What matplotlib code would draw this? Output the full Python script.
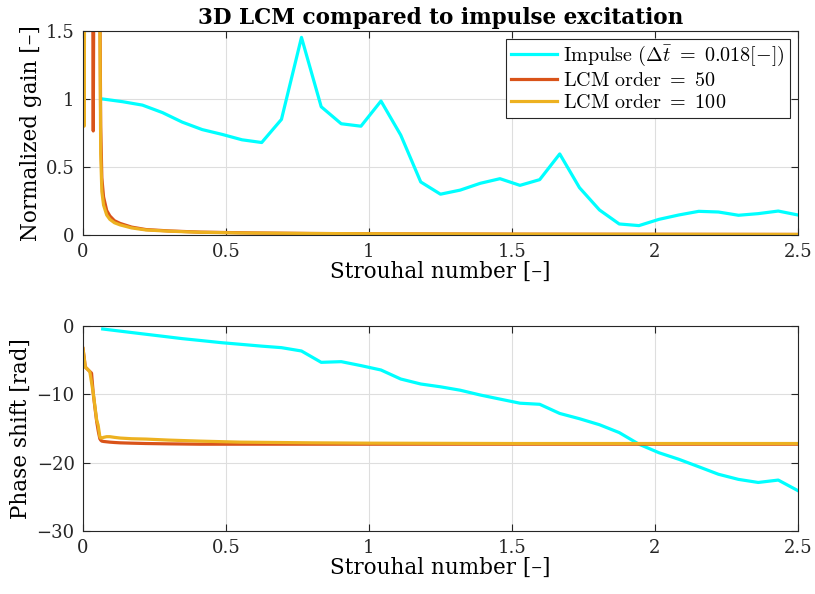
import matplotlib
matplotlib.use("Agg")
import matplotlib.pyplot as plt

# impulse response (Strouhal number, normalized gain, phase)
st_imp = [0.069, 0.139, 0.208, 0.278, 0.347, 0.417, 0.486, 0.556, 0.625, 0.694,
          0.764, 0.833, 0.903, 0.972, 1.042, 1.111, 1.181, 1.250, 1.319, 1.389,
          1.458, 1.528, 1.597, 1.667, 1.736, 1.806, 1.875, 1.944, 2.014, 2.083,
          2.153, 2.222, 2.292, 2.361, 2.431, 2.500]
gain_imp = [1.00, 0.98, 0.955, 0.90, 0.83, 0.775, 0.74, 0.70, 0.68, 0.85,
            1.453, 0.943, 0.818, 0.80, 0.985, 0.735, 0.39, 0.30, 0.33, 0.38,
            0.414, 0.365, 0.407, 0.596, 0.348, 0.184, 0.081, 0.069, 0.115, 0.147,
            0.174, 0.169, 0.145, 0.157, 0.176, 0.147]
phase_imp = [-0.44, -0.8, -1.15, -1.5, -1.85, -2.15, -2.45, -2.7, -2.95, -3.17,
             -3.66, -5.32, -5.22, -5.8, -6.44, -7.76, -8.49, -8.9, -9.4, -10.1,
             -10.7, -11.3, -11.46, -12.8, -13.57, -14.45, -15.6, -17.3, -18.55, -19.5,
             -20.6, -21.7, -22.45, -22.9, -22.55, -24.1]

# LCM order 50
st_lcm50 = [0, 0.004, 0.008, 0.02, 0.03, 0.036, 0.042, 0.048, 0.054, 0.059,
            0.062, 0.066, 0.072, 0.083, 0.094, 0.11, 0.13, 0.17, 0.22, 0.3,
            0.41, 0.6, 0.8, 1.0, 1.5, 2.0, 2.5]
gain_lcm50 = [3, 3, 3, 4, 4, 0.765, 4, 4, 4, 1.8,
              0.8, 0.42, 0.28, 0.18, 0.14, 0.105, 0.085, 0.058, 0.04, 0.03,
              0.021, 0.015, 0.011, 0.009, 0.006, 0.005, 0.004]
phase_lcm50 = [-3.3, -4.5, -6.0, -6.5, -6.9, -9.9, -12.0, -14.0, -15.5, -16.5,
               -16.7, -16.85, -16.9, -16.95, -17.0, -17.05, -17.1, -17.15, -17.2, -17.25,
               -17.3, -17.3, -17.3, -17.3, -17.3, -17.3, -17.3]

# LCM order 100
st_lcm100 = [0, 0.004, 0.008, 0.02, 0.024, 0.036, 0.048, 0.053, 0.059, 0.062,
             0.066, 0.072, 0.083, 0.094, 0.11, 0.13, 0.17, 0.22, 0.3, 0.41,
             0.55, 0.8, 1.0, 1.5, 2.0, 2.5]
gain_lcm100 = [3, 0.80, 3, 4, 4, 4, 4, 4, 1.6, 0.6,
               0.32, 0.22, 0.147, 0.115, 0.09, 0.074, 0.052, 0.037, 0.028, 0.02,
               0.015, 0.011, 0.009, 0.006, 0.005, 0.004]
phase_lcm100 = [-3.3, -4.6, -6.0, -6.5, -6.7, -9.85, -13.8, -14.5, -16.2, -16.4,
                -16.4, -16.3, -16.2, -16.2, -16.3, -16.4, -16.5, -16.55, -16.7, -16.85,
                -17.0, -17.1, -17.15, -17.2, -17.2, -17.2]

labels = [r"$\mathrm{Impulse}\ (\Delta\bar{t}\ =\ 0.018[-])$",
          r"$\mathrm{LCM\ order}\ =\ 50$",
          r"$\mathrm{LCM\ order}\ =\ 100$"]
colors = ["#00ffff", "#d95319", "#edb120"]

plt.rcParams["font.family"] = ["DejaVu Serif"]
plt.rcParams["mathtext.fontset"] = "cm"

fig = plt.figure(figsize=(8.15, 5.94), dpi=100)
ax1 = fig.add_axes([0.1018, 0.6044, 0.8773, 0.3434])
ax2 = fig.add_axes([0.1018, 0.1061, 0.8773, 0.3451])

ax1.plot(st_imp, gain_imp, color=colors[0], lw=2.3, label=labels[0])
ax1.plot(st_lcm50, gain_lcm50, color=colors[1], lw=2.3, label=labels[1])
ax1.plot(st_lcm100, gain_lcm100, color=colors[2], lw=2.3, label=labels[2])

ax2.plot(st_imp, phase_imp, color=colors[0], lw=2.3)
ax2.plot(st_lcm50, phase_lcm50, color=colors[1], lw=2.3)
ax2.plot(st_lcm100, phase_lcm100, color=colors[2], lw=2.3)

ax1.set_ylim(0, 1.5)
ax1.set_yticks([0, 0.5, 1, 1.5])
ax1.set_yticklabels(["0", "0.5", "1", "1.5"])
ax2.set_ylim(-30, 0)
ax2.set_yticks([-30, -20, -10, 0])

for ax in (ax1, ax2):
    ax.set_xlim(0, 2.5)
    ax.set_xticks([0, 0.5, 1, 1.5, 2, 2.5])
    ax.set_xticklabels(["0", "0.5", "1", "1.5", "2", "2.5"])
    ax.grid(True, color="#dedede", lw=0.8)
    ax.set_axisbelow(True)
    ax.tick_params(direction="in", top=True, right=True, length=5,
                   labelsize=13, colors="#262626", pad=6)
    for sp in ax.spines.values():
        sp.set_color("#262626")
        sp.set_linewidth(0.8)
    ax.set_xlabel("Strouhal number [–]", fontsize=15.5, labelpad=0)

ax1.set_ylabel("Normalized gain [–]", fontsize=15.5, labelpad=3)
ax2.set_ylabel("Phase shift [rad]", fontsize=15.5, labelpad=3)
ax1.set_title("3D LCM compared to impulse excitation", fontsize=15.5,
              fontweight="bold", pad=5)

leg = ax1.legend(loc="upper right", fontsize=14.5, fancybox=False,
                 edgecolor="#262626", framealpha=1, borderaxespad=0.4,
                 handlelength=2.3, handletextpad=0.3, borderpad=0.25,
                 labelspacing=0.15)
leg.get_frame().set_linewidth(0.8)

fig.savefig("out.png", dpi=100)
